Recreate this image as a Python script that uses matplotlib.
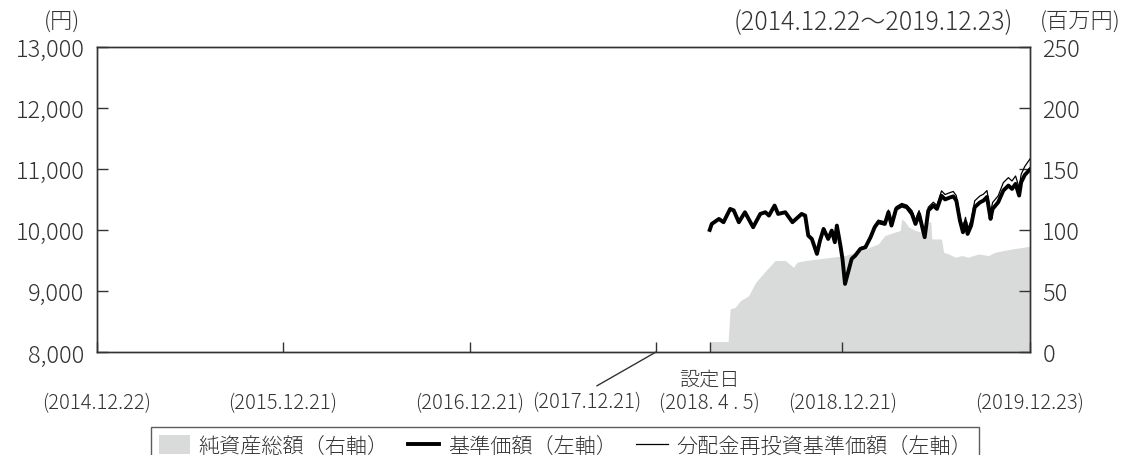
import matplotlib
matplotlib.use("Agg")
import matplotlib.pyplot as plt
import matplotlib.dates as mdates
from matplotlib.patches import Patch
from matplotlib.lines import Line2D
import pandas as pd

plt.rcParams['font.family'] = ['Noto Sans CJK JP', 'DejaVu Sans']
plt.rcParams['font.weight'] = 'light'

# 基準価額 / 分配金再投資基準価額 (円)
price_dates = [
    "2018-04-05", "2018-04-09", "2018-04-23", "2018-05-02", "2018-05-15", "2018-05-22",
    "2018-06-01", "2018-06-13", "2018-06-29", "2018-07-13", "2018-07-23", "2018-07-30",
    "2018-08-10", "2018-08-17", "2018-08-31", "2018-09-14", "2018-10-02", "2018-10-09",
    "2018-10-15", "2018-10-22", "2018-11-01", "2018-11-07", "2018-11-14", "2018-11-23",
    "2018-11-30", "2018-12-06", "2018-12-10", "2018-12-17", "2018-12-21", "2018-12-26",
    "2019-01-08", "2019-01-15", "2019-01-25", "2019-02-04", "2019-02-14", "2019-02-22",
    "2019-03-01", "2019-03-14", "2019-03-21", "2019-03-27", "2019-04-05", "2019-04-16",
    "2019-04-26", "2019-05-06", "2019-05-13", "2019-05-20", "2019-05-31", "2019-06-07",
    "2019-06-17", "2019-06-24", "2019-07-03", "2019-07-10", "2019-07-19", "2019-07-26",
    "2019-08-01", "2019-08-08", "2019-08-14", "2019-08-19", "2019-08-23", "2019-08-30",
    "2019-09-06", "2019-09-16", "2019-09-23", "2019-09-30", "2019-10-07", "2019-10-11",
    "2019-10-22", "2019-11-01", "2019-11-11", "2019-11-18", "2019-11-25", "2019-12-02",
    "2019-12-06", "2019-12-13", "2019-12-23",
]
nav = [
    10000, 10098, 10180, 10126, 10344, 10320,
    10126, 10290, 10044, 10262, 10290, 10235,
    10399, 10262, 10290, 10126, 10262, 10235,
    9907, 9852, 9607, 9825, 10016, 9852,
    9989, 9798, 10071, 9743, 9525, 9115,
    9525, 9579, 9689, 9716, 9880, 10044,
    10126, 10098, 10290, 10071, 10344, 10399,
    10372, 10262, 10098, 10262, 9880, 10317,
    10399, 10344, 10560, 10500, 10530, 10550,
    10480, 10153, 9962, 10126, 9934, 10071,
    10372, 10450, 10480, 10540, 10180, 10344,
    10454, 10645, 10727, 10672, 10754, 10563,
    10781, 10900, 10990,
]
nav_reinvested = [
    10000, 10098, 10180, 10126, 10344, 10320,
    10126, 10290, 10044, 10262, 10290, 10235,
    10399, 10262, 10290, 10126, 10262, 10235,
    9907, 9852, 9617, 9835, 10026, 9862,
    9999, 9808, 10081, 9753, 9535, 9125,
    9545, 9599, 9709, 9736, 9900, 10064,
    10161, 10133, 10325, 10106, 10379, 10434,
    10407, 10317, 10153, 10317, 9935, 10372,
    10454, 10399, 10640, 10580, 10610, 10630,
    10560, 10233, 10042, 10206, 10014, 10151,
    10477, 10555, 10585, 10645, 10285, 10449,
    10559, 10775, 10857, 10802, 10884, 10693,
    10911, 11040, 11160,
]

# 純資産総額 (百万円)
asset_dates = [
    "2018-04-05", "2018-05-11", "2018-05-15", "2018-05-25", "2018-06-04", "2018-06-20",
    "2018-07-04", "2018-07-24", "2018-08-11", "2018-08-31", "2018-09-16", "2018-09-23",
    "2018-10-09", "2018-11-04", "2018-11-30", "2018-12-26", "2019-01-15", "2019-02-04",
    "2019-03-01", "2019-03-14", "2019-04-02", "2019-04-13", "2019-04-16", "2019-04-23",
    "2019-04-29", "2019-05-13", "2019-05-26", "2019-06-05", "2019-06-12", "2019-06-14",
    "2019-07-03", "2019-07-07", "2019-07-17", "2019-07-30", "2019-08-12", "2019-08-24",
    "2019-09-13", "2019-10-03", "2019-10-16", "2019-11-18", "2019-12-23",
]
net_assets = [
    8.5, 8.5, 35.2, 36.6, 42.0, 46.0,
    57.0, 66.6, 74.9, 74.9, 69.4, 73.5,
    74.9, 76.2, 77.6, 79.0, 81.7, 84.4,
    88.5, 95.4, 98.1, 99.5, 109.0, 106.6,
    102.5, 99.5, 98.0, 106.6, 106.6, 92.6,
    92.6, 81.7, 80.3, 77.6, 79.0, 77.6,
    80.3, 79.0, 81.7, 84.4, 86.6,
]

tick_dates = ["2014-12-22", "2015-12-21", "2016-12-21", "2017-12-21",
              "2018-04-05", "2018-12-21", "2019-12-23"]
tick_labels = ["(2014.12.22)", "(2015.12.21)", "(2016.12.21)", "(2017.12.21)",
               "(2018. 4 . 5)", "(2018.12.21)", "(2019.12.23)"]

px = mdates.date2num(pd.to_datetime(price_dates))
ax_dates = mdates.date2num(pd.to_datetime(asset_dates))
tk = mdates.date2num(pd.to_datetime(tick_dates))

fig = plt.figure(figsize=(11.28, 4.56), dpi=100)
ax = fig.add_axes([0.086, 0.226, 0.827, 0.669])
ax2 = ax.twinx()

ax2.fill_between(ax_dates, net_assets, 0, color="#d9dada", lw=0, zorder=1)
ax2.set_ylim(0, 250)
ax2.set_yticks([0, 50, 100, 150, 200, 250])

ax.set_zorder(ax2.get_zorder() + 1)
ax.patch.set_visible(False)
ax.plot(px, nav, color="black", lw=2.8, zorder=3)
ax.plot(px, nav_reinvested, color="black", lw=0.9, zorder=4)
ax.set_ylim(8000, 13000)
ax.set_yticks(range(8000, 13001, 1000))
ax.set_yticklabels([f"{v:,}" for v in range(8000, 13001, 1000)])
ax.set_xlim(tk[0], tk[-1])
ax.set_xticks(tk)
ax.set_xticklabels([])

txt = "#333333"
for a in (ax, ax2):
    for s in a.spines.values():
        s.set_color(txt)
        s.set_linewidth(1.0)
    a.tick_params(direction="in", length=8, width=1, color=txt,
                  labelsize=17, labelcolor=txt, pad=9)
ax.tick_params(axis="x", length=7)

trans = ax.get_xaxis_transform()
for i, (d, lab) in enumerate(zip(tk, tick_labels)):
    if i == 3:
        ax.annotate(lab, xy=(d, 0), xycoords=trans, xytext=(-69, -50),
                    textcoords="offset pixels", ha="center", va="center",
                    fontsize=14.5, color=txt,
                    arrowprops=dict(arrowstyle="-", color=txt, lw=1,
                                    relpos=(0.5, 1.0), shrinkA=4, shrinkB=0))
    else:
        ax.text(d, -0.166, lab, transform=trans, ha="center", va="center",
                fontsize=14.5, color=txt)
ax.text(tk[4], -0.088, "設定日", transform=trans, ha="center", va="center",
        fontsize=14.5, color=txt)

fig.text(0.055, 0.950, "(円)", ha="center", va="center", fontsize=16, color=txt)
fig.text(0.774, 0.950, "(2014.12.22～2019.12.23)", ha="center", va="center",
         fontsize=18, color=txt)
fig.text(0.958, 0.950, "(百万円)", ha="center", va="center", fontsize=16, color=txt)

handles = [Patch(facecolor="#d9dada", edgecolor="none"),
           Line2D([], [], color="black", lw=2.8),
           Line2D([], [], color="black", lw=0.9)]
labels = ["純資産総額（右軸）", "基準価額（左軸）", "分配金再投資基準価額（左軸）"]
leg = fig.legend(handles, labels, loc="center", bbox_to_anchor=(0.501, 0.02), ncol=3,
                 frameon=True, fancybox=False, edgecolor=txt, fontsize=15.2,
                 handlelength=1.5, handleheight=1.0, handletextpad=0.4,
                 columnspacing=0.9, borderpad=0.35)
leg.get_frame().set_linewidth(1.0)
for t in leg.get_texts():
    t.set_color(txt)

fig.savefig("out.png", dpi=100)
